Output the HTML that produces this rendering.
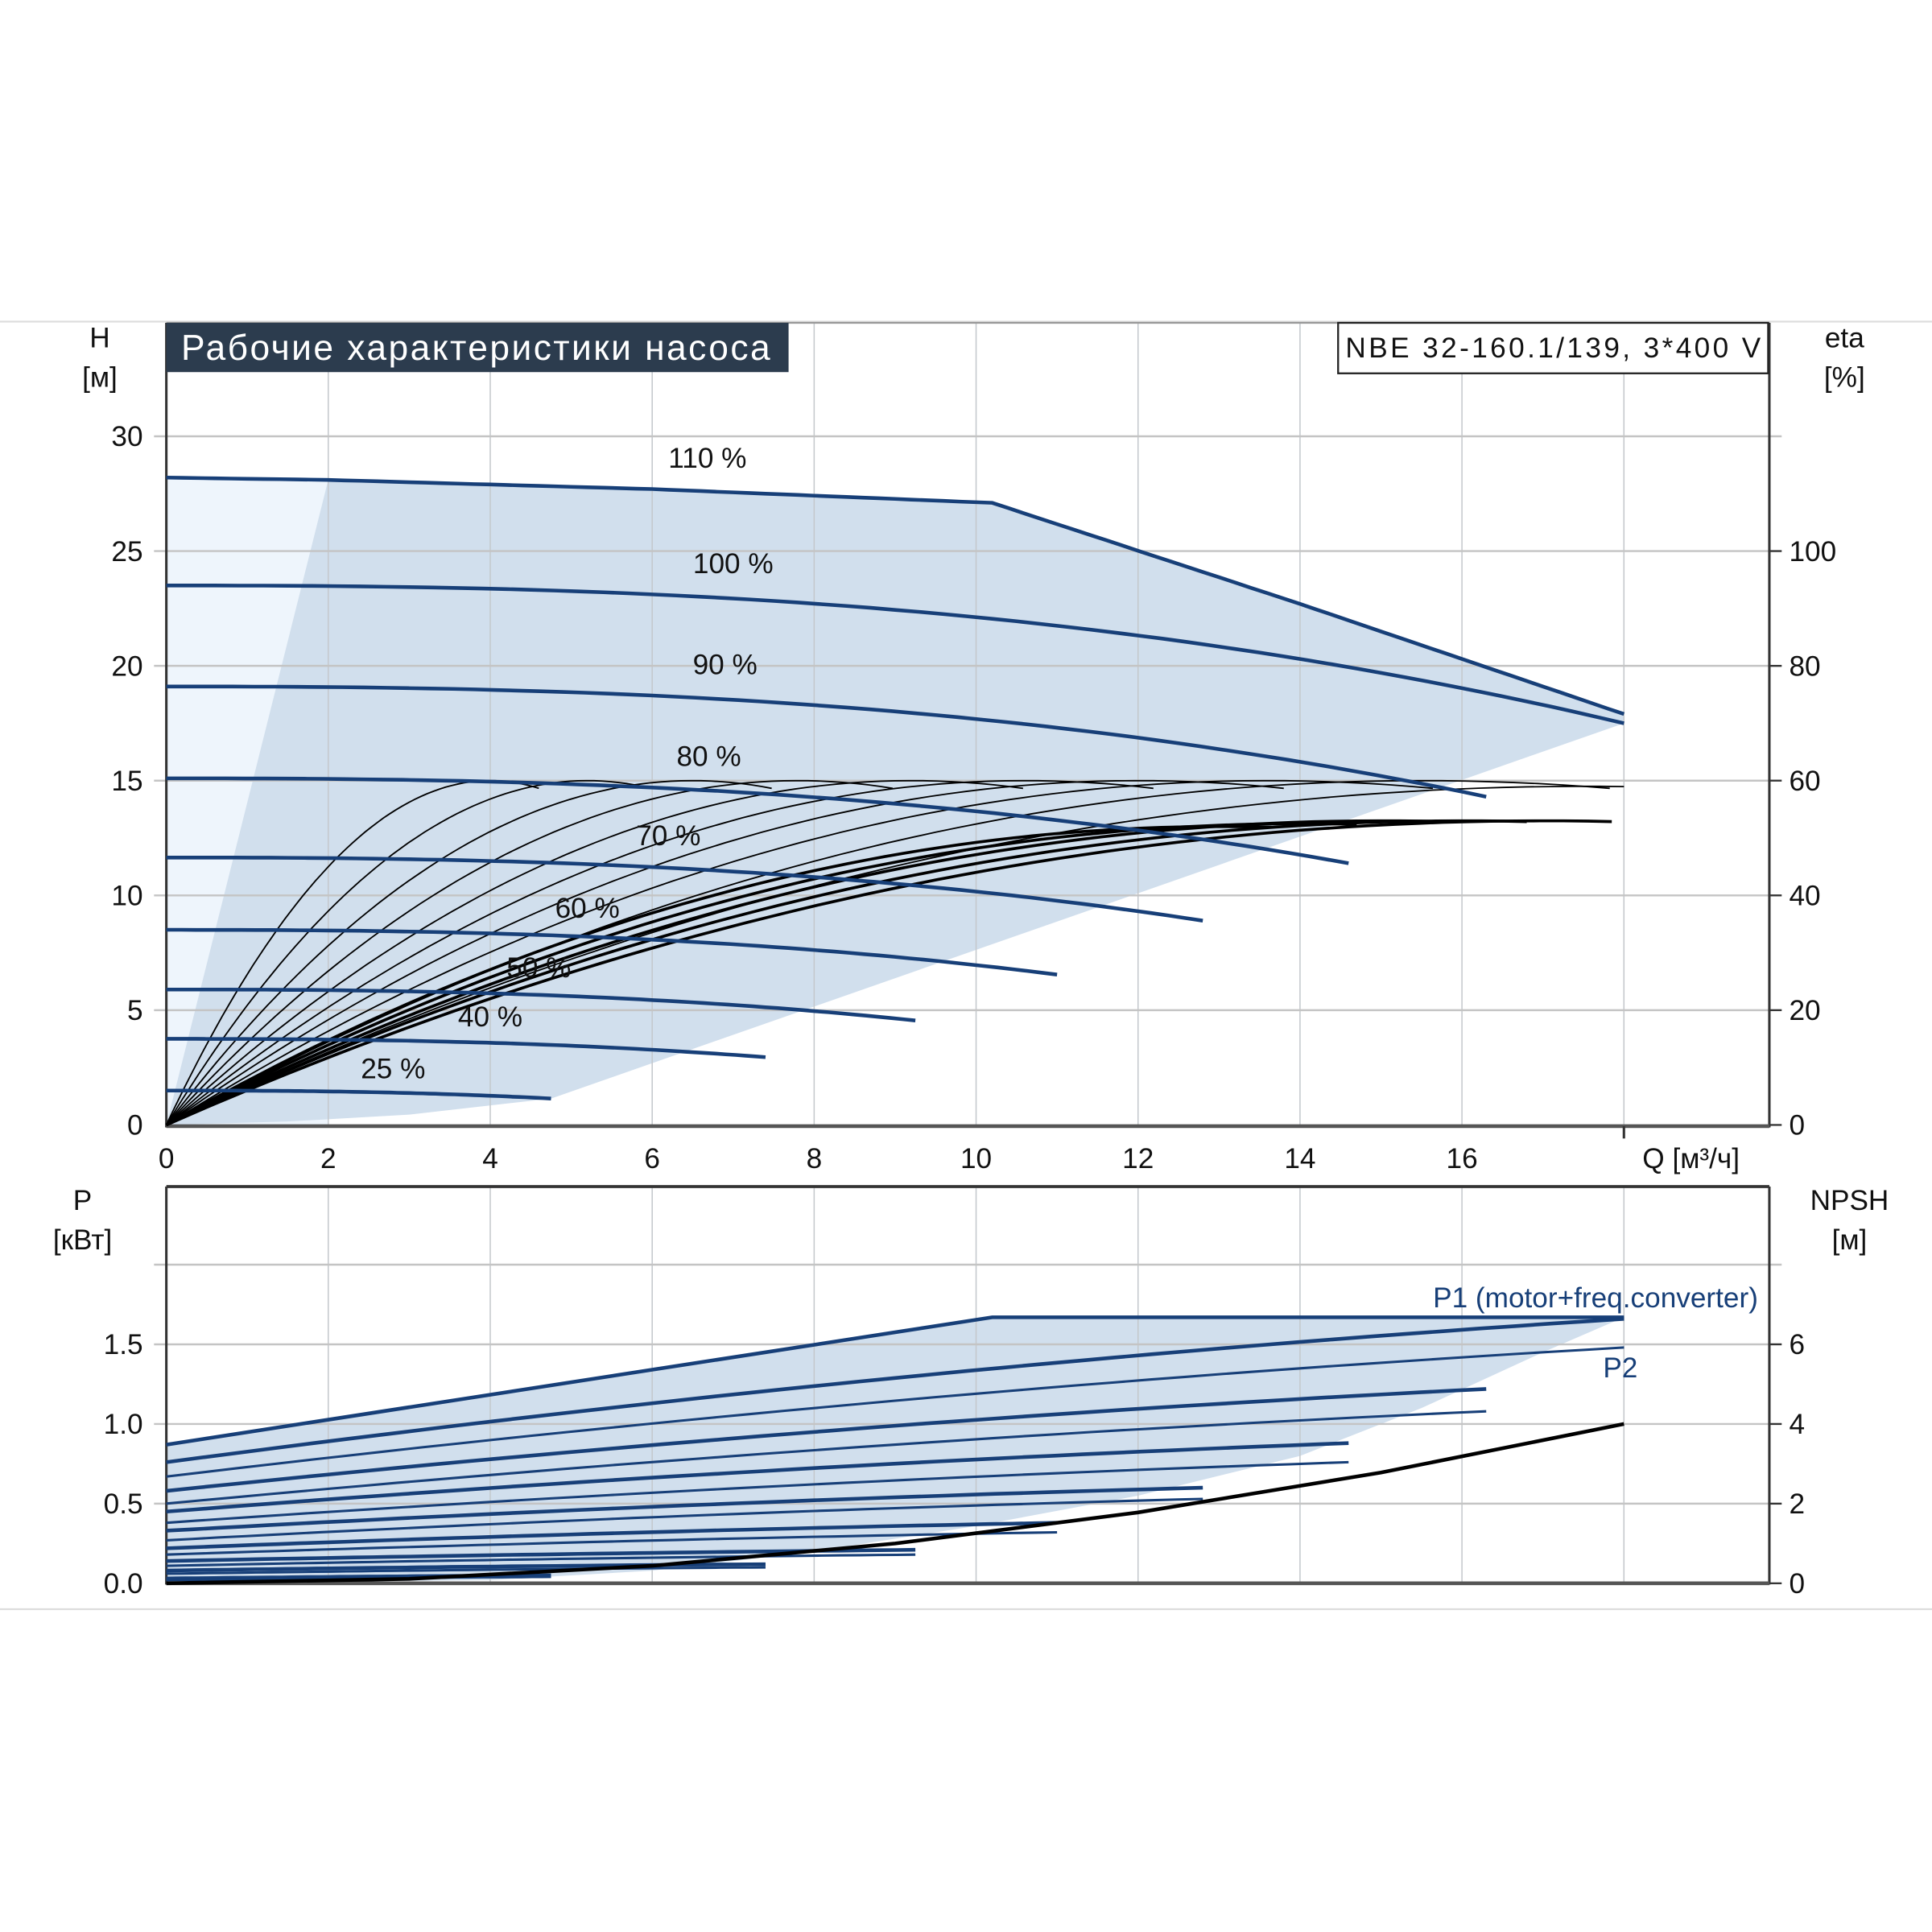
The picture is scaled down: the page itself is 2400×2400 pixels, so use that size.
<!DOCTYPE html>
<html><head><meta charset="utf-8"><style>
html,body{margin:0;padding:0;background:#fff;}
svg{display:block;}
text{font-family:"Liberation Sans","DejaVu Sans",sans-serif;fill:#111;}
</style></head><body>
<svg id="chart" width="2400" height="2400" viewBox="0 0 1568 1568" xmlns="http://www.w3.org/2000/svg">
<line x1="0" y1="261" x2="1568" y2="261" stroke="#ddd" stroke-width="1.5"/>
<line x1="0" y1="1306" x2="1568" y2="1306" stroke="#ddd" stroke-width="1.5"/>
<g id="topPlot"></g>
<g id="botPlot"></g>
</svg>
<script>
// ---- data ----
const qTicks = [0,2,4,6,8,10,12,14,16];
const hTicks = [0,5,10,15,20,25,30];
const etaTicks = [0,20,40,60,80,100];
const pTicks = ["0.0","0.5","1.0","1.5"];
const npshTicks = [0,2,4,6];
const speedLabels = ["100 %","90 %","80 %","70 %","60 %","50 %","40 %","25 %"];
const shutoffHead = [23.5,19.1,15.1,11.65,8.5,5.9,3.75,1.5];
const endFlow = [18,16.3,14.6,12.8,11.0,9.25,7.4,4.75];
const endHead = [17.5,14.3,11.4,8.9,6.55,4.55,2.95,1.15];
const maxQ = [0,2,6,10.2,14,18];
const maxH = [28.2,28.1,27.7,27.1,22.7,17.9];
const effPeakQ = [4,5.2,6.5,7.8,9.2,10.6,12,13.6,15.5,17.5];
const effPeakEta = [60,60,60,60,60,60,60,60,60,59];
const effThickPeakQ = [13,14,15,16,17];
const effThickPeakEta = [52,52.5,53,53,53];
const p1Start = [0.76,0.58,0.45,0.33,0.22,0.14,0.08,0.03];
const p1End = [1.66,1.22,0.88,0.6,0.38,0.21,0.12,0.05];
const p2Start = [0.67,0.5,0.38,0.27,0.18,0.11,0.06,0.02];
const p2End = [1.48,1.08,0.76,0.53,0.32,0.18,0.1,0.04];
const maxPQ = [0,10.2,18];
const maxP = [0.87,1.67,1.67];
const npshQ = [0,3,6,9,12,15,18];
const npshV = [0,0.11,0.44,1.0,1.78,2.78,4.0];

// ---- scales ----
const X0=135, XR=1436;
const xs = q => X0 + q*65.72;
const ys = h => 913 - h*18.63;
const ye = e => ys(e/4);
const yp = p => 1285 - p*129.3;
const yn = n => yp(n/4);
const NS="http://www.w3.org/2000/svg";
function mk(parent, tag, attrs, name, txt){
  const el=document.createElementNS(NS,tag);
  for(const k in attrs) el.setAttribute(k,attrs[k]);
  
  
  if(txt!==undefined) el.textContent=txt;
  parent.appendChild(el); return el;
}
const gTop=document.getElementById('topPlot'), gBot=document.getElementById('botPlot');
const BLUE="#173f78";
function pts(arr){return arr.map(p=>p[0].toFixed(1)+","+p[1].toFixed(1)).join(" ");}
function headAt(i,q){return shutoffHead[i]-(shutoffHead[i]-endHead[i])*Math.pow(q/endFlow[i],2.5);}
function maxHAt(q){for(let k=1;k<maxQ.length;k++){if(q<=maxQ[k]){const t=(q-maxQ[k-1])/(maxQ[k]-maxQ[k-1]);return maxH[k-1]+t*(maxH[k]-maxH[k-1]);}}return maxH[maxH.length-1];}

// ===== TOP PLOT =====
mk(gTop,'rect',{x:X0,y:ys(maxH[0]),width:xs(2)-X0,height:913-ys(maxH[0]),fill:"#eef5fc"},'light-region');
let reg=[[xs(0),ys(0)]];
for(let q=2;q<=18.001;q+=0.25) reg.push([xs(q),ys(maxHAt(q))]);
reg.push([xs(18),ys(endHead[0])]);
reg.push([xs(endFlow[7]),ys(endHead[7])]);
reg.push([xs(3),ys(0.45)]);reg.push([xs(1.5),ys(0.15)]);
mk(gTop,'polygon',{points:pts(reg),fill:"#d1dfed"},'operating-region');
qTicks.concat([18]).forEach(q=>{ if(q>0) mk(gTop,'line',{x1:xs(q),y1:262,x2:xs(q),y2:913,stroke:"#c4c8cc","stroke-width":1},'q-gridline');});
hTicks.forEach(h=>{ if(h>0) mk(gTop,'line',{x1:125,y1:ys(h),x2:1446,y2:ys(h),stroke:"#c4c4c4","stroke-width":1.6},'h-gridline');});
mk(gTop,'line',{x1:X0,y1:262,x2:XR,y2:262,stroke:"#999","stroke-width":1.5},'frame-top');
mk(gTop,'line',{x1:X0,y1:262,x2:X0,y2:915,stroke:"#333","stroke-width":2},'y-axis');
mk(gTop,'line',{x1:XR,y1:262,x2:XR,y2:915,stroke:"#333","stroke-width":2},'y2-axis');
mk(gTop,'line',{x1:X0,y1:914,x2:XR,y2:914,stroke:"#555","stroke-width":3},'x-axis');
mk(gTop,'line',{x1:xs(18),y1:914,x2:xs(18),y2:924,stroke:"#333","stroke-width":2},'x-tick');
qTicks.forEach(q=>mk(gTop,'text',{x:xs(q),y:948,"font-size":23,"text-anchor":"middle"},'x-tick-label',String(q)));
mk(gTop,'text',{x:1333,y:948,"font-size":23},'x-axis-title',"Q [м³/ч]");
hTicks.forEach(h=>mk(gTop,'text',{x:116,y:ys(h)+8,"font-size":23,"text-anchor":"end"},'h-tick-label',String(h)));
etaTicks.forEach(e=>{mk(gTop,'line',{x1:XR,y1:ye(e),x2:1446,y2:ye(e),stroke:"#333","stroke-width":1.5},'eta-tick');
 mk(gTop,'text',{x:1452,y:ye(e)+8,"font-size":23},'eta-tick-label',String(e));});
mk(gTop,'text',{x:81,y:282,"font-size":23,"text-anchor":"middle"},'h-axis-title',"H");
mk(gTop,'text',{x:81,y:314,"font-size":23,"text-anchor":"middle"},'h-axis-unit',"[м]");
mk(gTop,'text',{x:1497,y:282,"font-size":23,"text-anchor":"middle"},'eta-axis-title',"eta");
mk(gTop,'text',{x:1497,y:314,"font-size":23,"text-anchor":"middle"},'eta-axis-unit',"[%]");
effPeakQ.forEach((qp,i)=>{
  const qe=Math.min(qp*1.15,18); const a=[];
  for(let q=0;q<=qe+0.001;q+=qe/60){const x=q/qp;a.push([xs(q),ye(effPeakEta[i]*(2*x-x*x))]);}
  mk(gTop,'polyline',{points:pts(a),fill:"none",stroke:"#000","stroke-width":1.2},'efficiency-curve');
});
effThickPeakQ.forEach((qp,i)=>{
  const qe=Math.min(qp*1.05,18); const a=[];
  for(let q=0;q<=qe+0.001;q+=qe/60){const x=q/qp;a.push([xs(q),ye(effThickPeakEta[i]*(2*x-x*x))]);}
  mk(gTop,'polyline',{points:pts(a),fill:"none",stroke:"#000","stroke-width":2.4},'efficiency-curve-thick');
});
{const a=[];for(let q=0;q<=18.001;q+=0.2)a.push([xs(q),ys(maxHAt(q))]);
 mk(gTop,'polyline',{points:pts(a),fill:"none",stroke:BLUE,"stroke-width":3},'head-curve-110');}
mk(gTop,'text',{x:xs(6.2),y:ys(28.2)-8,"font-size":23},'label-110',"110 %");
const labQ=[7.0,6.9,6.7,6.2,5.2,4.6,4.0,2.8];
speedLabels.forEach((lab,i)=>{
  const a=[];for(let q=0;q<=endFlow[i]+0.001;q+=endFlow[i]/60)a.push([xs(q),ys(headAt(i,q))]);
  mk(gTop,'polyline',{points:pts(a),fill:"none",stroke:BLUE,"stroke-width":3},'head-curve');
  mk(gTop,'text',{x:xs(labQ[i]),y:ys(shutoffHead[i])-10,"font-size":23,"text-anchor":"middle"},'speed-label',lab);
});
mk(gTop,'rect',{x:135,y:262,width:505,height:40,fill:"#2c3c4e"},'title-box');
{const t=mk(gTop,'text',{x:147,y:292,"font-size":29,"textLength":478},'chart-title',"Рабочие характеристики насоса");t.style.fill="#fff";}
mk(gTop,'rect',{x:1086,y:262,width:349,height:41,fill:"#fff",stroke:"#222","stroke-width":1.5},'model-box');
mk(gTop,'text',{x:1092,y:290,"font-size":23,"textLength":337},'model-label',"NBE 32-160.1/139, 3*400 V");

// ===== BOTTOM PLOT =====
function maxPAt(q){for(let k=1;k<maxPQ.length;k++){if(q<=maxPQ[k]){const t=(q-maxPQ[k-1])/(maxPQ[k]-maxPQ[k-1]);return maxP[k-1]+t*(maxP[k]-maxP[k-1]);}}return maxP[maxP.length-1];}
mk(gBot,'rect',{x:X0,y:yp(maxP[0]),width:xs(2)-X0,height:1285-yp(maxP[0]),fill:"#eef5fc"},'light-region');
{const a=[[xs(0),yp(0)],[xs(0),yp(maxP[0])]];
 for(let q=0;q<=18.001;q+=0.5)a.push([xs(q),yp(maxPAt(q))]);
 [[17,1.45],[15.5,1.1],[14,0.8],[12,0.55],[10,0.36],[8,0.2],[6,0.08],[4,0.02]].forEach(p=>a.push([xs(p[0]),yp(p[1])]));
 mk(gBot,'polygon',{points:pts(a),fill:"#d1dfed"},'power-region');}
qTicks.concat([18]).forEach(q=>{ if(q>0) mk(gBot,'line',{x1:xs(q),y1:963,x2:xs(q),y2:1285,stroke:"#c4c8cc","stroke-width":1},'q-gridline');});
[0.5,1.0,1.5,2.0].forEach(p=>mk(gBot,'line',{x1:125,y1:yp(p),x2:1446,y2:yp(p),stroke:"#c4c4c4","stroke-width":1.6},'p-gridline'));
mk(gBot,'line',{x1:X0,y1:963,x2:XR,y2:963,stroke:"#333","stroke-width":2.5},'frame-top');
mk(gBot,'line',{x1:X0,y1:963,x2:X0,y2:1286,stroke:"#333","stroke-width":2},'y-axis');
mk(gBot,'line',{x1:XR,y1:963,x2:XR,y2:1286,stroke:"#333","stroke-width":2},'y2-axis');
mk(gBot,'line',{x1:X0,y1:1285,x2:XR,y2:1285,stroke:"#555","stroke-width":3},'x-axis');
pTicks.forEach(p=>mk(gBot,'text',{x:116,y:yp(+p)+8,"font-size":23,"text-anchor":"end"},'p-tick-label',p));
npshTicks.forEach(n=>{mk(gBot,'line',{x1:XR,y1:yn(n),x2:1446,y2:yn(n),stroke:"#333","stroke-width":1.5},'npsh-tick');
 mk(gBot,'text',{x:1452,y:yn(n)+8,"font-size":23},'npsh-tick-label',String(n));});
mk(gBot,'text',{x:67,y:982,"font-size":23,"text-anchor":"middle"},'p-axis-title',"P");
mk(gBot,'text',{x:67,y:1014,"font-size":23,"text-anchor":"middle"},'p-axis-unit',"[кВт]");
mk(gBot,'text',{x:1501,y:982,"font-size":23,"text-anchor":"middle"},'npsh-axis-title',"NPSH");
mk(gBot,'text',{x:1501,y:1014,"font-size":23,"text-anchor":"middle"},'npsh-axis-unit',"[м]");
function pcurve(s,e,qe,w,name){const a=[];for(let q=0;q<=qe+0.001;q+=qe/40){const x=q/qe;a.push([xs(q),yp(s+(e-s)*(1.35*x-0.35*x*x))]);}
  mk(gBot,'polyline',{points:pts(a),fill:"none",stroke:BLUE,"stroke-width":w},name);}
endFlow.forEach((qe,i)=>{pcurve(p1Start[i],p1End[i],qe,3,'p1-curve');pcurve(p2Start[i],p2End[i],qe,2,'p2-curve');});
{const a=maxPQ.map((q,i)=>[xs(q),yp(maxP[i])]);mk(gBot,'polyline',{points:pts(a),fill:"none",stroke:BLUE,"stroke-width":3},'p1-max-curve');}
{const a=npshQ.map((q,i)=>[xs(q),yn(npshV[i])]);mk(gBot,'polyline',{points:pts(a),fill:"none",stroke:"#000","stroke-width":3},'npsh-curve');}
{const t=mk(gBot,'text',{x:1163,y:1061,"font-size":23},'p1-label',"P1 (motor+freq.converter)");t.style.fill=BLUE;}
{const t=mk(gBot,'text',{x:1301,y:1118,"font-size":23},'p2-label',"P2");t.style.fill=BLUE;}
</script>
</body></html>
